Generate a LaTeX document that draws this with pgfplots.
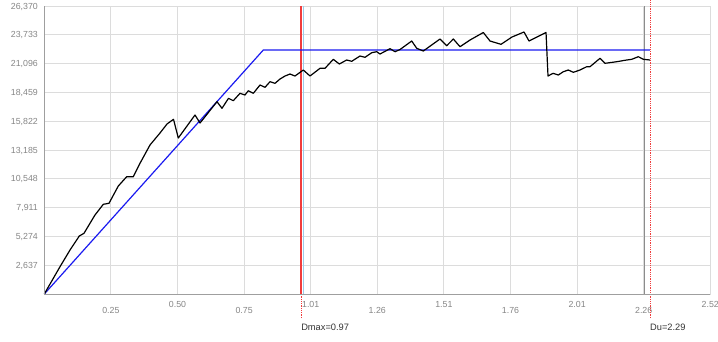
\documentclass[border=0pt]{standalone}
\usepackage{pgfplots}
\pgfplotsset{compat=1.18}
\usepackage{fontspec}
\setmainfont{Liberation Sans}

\definecolor{gridgray}{HTML}{DCDCDC}
\definecolor{ticktext}{HTML}{858585}
\definecolor{lineblue}{HTML}{1A1AF0}
\definecolor{markred}{HTML}{F03C3C}
\definecolor{lightblue}{HTML}{9CCBEA}

\begin{document}
\begin{tikzpicture}
\useasboundingbox (0,0) rectangle (718pt,341pt);
\begin{axis}[
  at={(44.3pt,47pt)}, anchor=south west,
  scale only axis, width=666pt, height=288pt,
  xmin=0, xmax=2.516, ymin=0, ymax=26370,
  clip=false,
  axis line style={draw=gridgray},
  major tick length=0pt,
  grid=major,
  major grid style={gridgray, line width=0.9pt},
  xtick={0.2516,0.7548,1.258,1.7612,2.2644},
  xticklabels={0.25,0.75,1.26,1.76,2.26},
  extra x ticks={0.5032,1.0064,1.5096,2.0128,2.516},
  extra x tick labels={0.50,1.01,1.51,2.01,2.52},
  extra x tick style={grid=major, xticklabel style={yshift=6pt}},
  xticklabel style={anchor=base, inner sep=0pt, yshift=-19pt,
    text=ticktext, font=\fontsize{8.8}{10}\selectfont},
  ytick={2637,5274,7911,10548,13185,15822,18459,21096,23733,26370},
  scaled y ticks=false,
  yticklabel style={anchor=base east, inner sep=0pt, xshift=-6.3pt, yshift=-3pt,
    text=ticktext, font=\fontsize{8.8}{10}\selectfont,
    /pgf/number format/.cd, fixed, precision=0, 1000 sep={,}},
  /pgf/number format/assume math mode=true,
]
% marker lines
\addplot[lightblue, line width=1.3pt] coordinates {(0.9805,0) (0.9805,26370)};
\addplot[markred, line width=1.6pt] coordinates {(0.970,0) (0.970,26370)};
\addplot[markred, densely dotted, line width=0.8pt] coordinates {(0.970,-2200) (0.970,0)};
\addplot[markred, densely dotted, line width=0.8pt] coordinates {(2.288,-2200) (2.288,26920)};
\addplot[black!45, line width=0.4pt] coordinates {(2.2644,0) (2.2644,26370)};

% bilinear idealisation
\addplot[lineblue, line width=1.2pt] coordinates {(0,0) (0.8274,22341) (2.288,22341)};

% capacity curve
\addplot[black, line width=1.2pt, line join=round] coordinates {
(0,0) (0.0593,2500) (0.0971,4029) (0.1322,5310) (0.1500,5558)
(0.1915,7233) (0.2229,8213) (0.2444,8305) (0.2796,9888) (0.3113,10740)
(0.3362,10740) (0.3615,11967) (0.3993,13642) (0.4371,14741) (0.4636,15565)
(0.4881,15996) (0.5062,14283) (0.5693,16389) (0.5882,15657) (0.6524,17607)
(0.6713,17003) (0.6959,17918) (0.7140,17699) (0.7393,18376) (0.7582,18220)
(0.7707,18614) (0.7896,18376) (0.8149,19136) (0.8338,18925) (0.8527,19438)
(0.8716,19292) (0.8905,19685) (0.9093,19960) (0.9282,20143) (0.9471,19960)
(0.9785,20509) (1.0038,19960) (1.0416,20665) (1.0604,20665) (1.0918,21489)
(1.1145,21058) (1.1424,21425) (1.1613,21306) (1.1927,21791) (1.2116,21672)
(1.2369,22093) (1.2558,22185) (1.2682,21974) (1.3060,22460) (1.3249,22185)
(1.3438,22386) (1.3880,23165) (1.4069,22496) (1.4318,22249) (1.4949,23348)
(1.5202,22734) (1.5452,23348) (1.5705,22643) (1.6083,23256) (1.6585,23943)
(1.6838,23165) (1.7254,22862) (1.7669,23531) (1.8123,23989) (1.8311,23165)
(1.8954,23943) (1.9029,19960) (1.9218,20207) (1.9418,20052) (1.9607,20354)
(1.9796,20509) (1.9985,20299) (2.0238,20509) (2.0491,20812) (2.0616,20812)
(2.0994,21581) (2.1183,21123) (2.1625,21269) (2.2002,21425) (2.2191,21489)
(2.2441,21727) (2.2630,21489) (2.2883,21425)
};

\draw[gray!75, line width=1pt] (rel axis cs:0,1) -- (rel axis cs:0,0) -- (rel axis cs:1,0);

\node[anchor=base west, inner sep=0pt, yshift=-36pt, text=black!80,
  font=\fontsize{9.3}{10}\selectfont] at (axis cs:0.970,0) {Dmax=0.97};
\node[anchor=base west, inner sep=0pt, yshift=-36pt, text=black!80,
  font=\fontsize{9.3}{10}\selectfont] at (axis cs:2.288,0) {Du=2.29};
\end{axis}
\end{tikzpicture}
\end{document}
